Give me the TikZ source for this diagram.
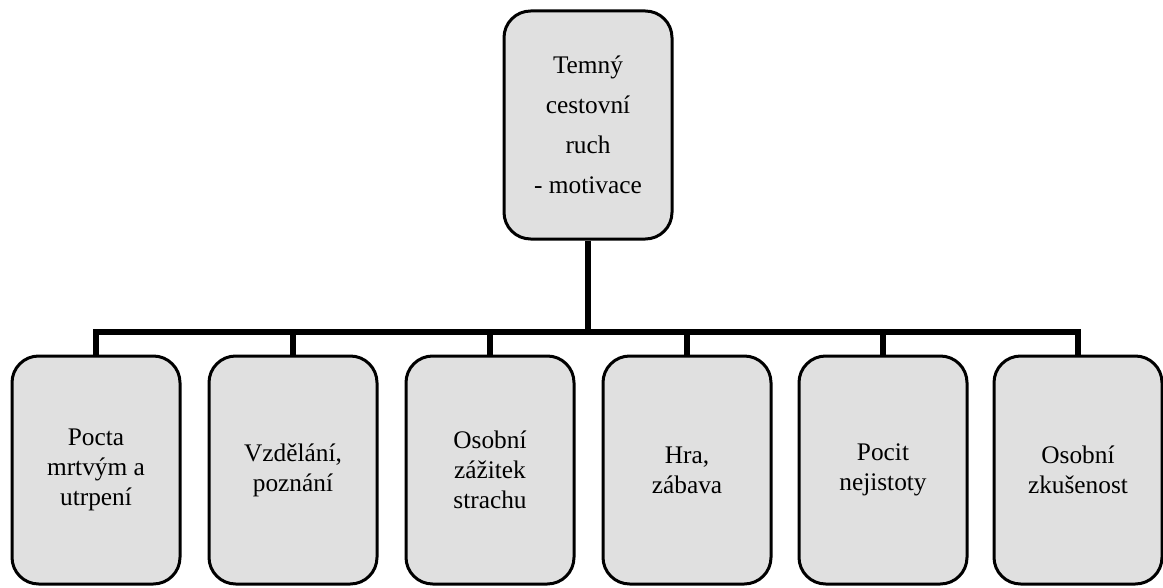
\documentclass[tikz,border=0pt]{standalone}
\usepackage{fontspec}
\setmainfont{Liberation Serif}

\tikzset{every picture/.style={line width=0.75pt}}
\tikzset{
  motivbox/.style={draw, line width=2.25pt, rounded corners=20pt, fill={rgb,255:red,224;green,224;blue,224},
    minimum width=126pt, minimum height=171pt, align=center, inner sep=0.75pt,
    font=\fontsize{19}{22.5}\selectfont},
  vetev/.style={line width=4.5pt}
}

\begin{document}
\begin{tikzpicture}[x=0.75pt,y=0.75pt,yscale=-1,xscale=1]
			\useasboundingbox (0,0) rectangle (1163,588);
			
			%Shape: Rounded Rect [id:top] 
			\node [motivbox, font=\fontsize{19}{30}\selectfont] (temny) at (588,125) {Temný\\cestovní\\ruch\\- motivace};
			
			%Shape: Rounded Rect [id:b1] 
			\node [motivbox] (pocta) at (96,470) {Pocta\\mrtvým a\\utrpení};
			%Shape: Rounded Rect [id:b2] 
			\node [motivbox] (vzdelani) at (293,470) {Vzdělání,\\poznání};
			%Shape: Rounded Rect [id:b3] 
			\node [motivbox] (strach) at (490,470) {Osobní\\zážitek\\strachu};
			%Shape: Rounded Rect [id:b4] 
			\node [motivbox] (hra) at (687,470) {Hra,\\zábava};
			%Shape: Rounded Rect [id:b5] 
			\node [motivbox] (pocit) at (883,470) {Pocit\\nejistoty};
			%Shape: Rounded Rect [id:b6] 
			\node [motivbox] (zkusenost) at (1078,470) {Osobní\\zkušenost};
			
			%Straight Lines [id:bar] 
			\coordinate (lista) at (588,332);
			\draw [vetev] (temny.south) -- (lista);
			\draw [vetev] (lista) -| (pocta.north);
			\draw [vetev] (lista) -| (vzdelani.north);
			\draw [vetev] (lista) -| (strach.north);
			\draw [vetev] (lista) -| (hra.north);
			\draw [vetev] (lista) -| (pocit.north);
			\draw [vetev] (lista) -| (zkusenost.north);
			
		\end{tikzpicture}
\end{document}
